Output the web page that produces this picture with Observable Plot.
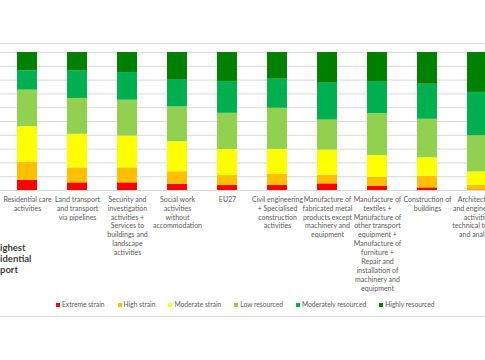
<!DOCTYPE html>
<html><head><meta charset="utf-8">
<script src="https://cdn.jsdelivr.net/npm/d3@7"></script>
<script src="https://cdn.jsdelivr.net/npm/@observablehq/plot@0.6"></script>
<style>
html,body{margin:0;padding:0;background:#fff;overflow:hidden;}
#wrap{position:relative;width:485px;height:360px;overflow:hidden;font-family:Lato,"Liberation Sans",sans-serif;}
#box{position:absolute;left:0;width:485px;top:43px;height:274px;border-top:1px solid #d9d9d9;border-bottom:1px solid #d9d9d9;box-sizing:border-box;}
#chart{position:absolute;left:0;top:0;width:504px;}
#chart svg{max-width:none;}
#side{position:absolute;left:0;top:242px;font-weight:bold;font-size:9.5px;line-height:11px;color:#404040;}
#legend{position:absolute;left:56px;top:300px;display:flex;gap:13px;font-size:6.7px;line-height:9px;color:#595959;white-space:nowrap;}
.item{display:flex;align-items:center;gap:2px}
.sw{width:4px;height:4px;display:inline-block}
</style></head>
<body>
<div id="wrap">
  <div id="box"></div>
  <div id="chart"></div>
  <div id="side">ighest<br>idential<br>port</div>
  <div id="legend"></div>
</div>
<script>
const categories = [
  "Residential care activities",
  "Land transport and transport via pipelines",
  "Security and investigation activities + Services to buildings and landscape activities",
  "Social work activities without accommodation",
  "EU27",
  "Civil engineering + Specialised construction activities",
  "Manufacture of fabricated metal products except machinery and equipment",
  "Manufacture of textiles + Manufacture of other transport equipment + Manufacture of furniture + Repair and installation of machinery and equipment",
  "Construction of buildings",
  "Architectural and engineering activities; technical testing and analysis"
];
const tickLabels = [
  "Residential care\nactivities",
  "Land transport\nand transport\nvia pipelines",
  "Security and\ninvestigation\nactivities +\nServices to\nbuildings and\nlandscape\nactivities",
  "Social work\nactivities\nwithout\naccommodation",
  "EU27",
  "Civil engineering\n+ Specialised\nconstruction\nactivities",
  "Manufacture of\nfabricated metal\nproducts except\nmachinery and\nequipment",
  "Manufacture of\ntextiles +\nManufacture of\nother transport\nequipment +\nManufacture of\nfurniture +\nRepair and\ninstallation of\nmachinery and\nequipment",
  "Construction of\nbuildings",
  "Architectural\nand engineering\nactivities\ntechnical testing\nand analysis"
];
const seriesNames = ["Extreme strain","High strain","Moderate strain","Low resourced","Moderately resourced","Highly resourced"];
const seriesColors = ["#ff0000","#ffc000","#ffff00","#92d050","#00b050","#008000"];

const extremeStrain       = [7.3, 5.5, 5.5, 4.4, 3.6, 3.6, 4.8, 2.9, 1.9, 0.4];
const highStrain          = [13.3, 10.9, 10.9, 9.1, 7.2, 8.0, 6.3, 6.7, 8.5, 3.4];
const moderateStrain      = [25.7, 24.3, 23.0, 21.7, 18.8, 18.1, 18.1, 15.7, 13.3, 9.7];
const lowResourced        = [26.5, 26.0, 25.9, 25.1, 26.1, 29.7, 21.7, 30.2, 27.9, 26.3];
const moderatelyResourced = [14.0, 19.8, 20.0, 19.3, 22.9, 21.0, 26.6, 23.2, 25.4, 31.4];
const highlyResourced     = [13.3, 13.5, 14.5, 20.0, 21.0, 19.3, 22.2, 21.0, 23.0, 29.0];

const seriesValues = [extremeStrain, highStrain, moderateStrain, lowResourced, moderatelyResourced, highlyResourced];
const data = [];
seriesNames.forEach((s, si) => {
  categories.forEach((c, ci) => data.push({category: c, series: s, value: seriesValues[si][ci]}));
});

const chart = Plot.plot({
  width: 504, height: 300,
  marginTop: 52, marginBottom: 110, marginLeft: 0, marginRight: 0,
  style: {fontFamily: 'Lato,"Liberation Sans",sans-serif', fontSize: "7px", background: "transparent"},
  x: {domain: categories, paddingInner: 0.6, paddingOuter: 0.33, axis: null},
  y: {domain: [0, 1], axis: null},
  color: {domain: seriesNames, range: seriesColors},
  marks: [
    Plot.gridY({ticks: 10, stroke: "#d9d9d9", strokeOpacity: 1}),
    Plot.barY(data, Plot.stackY({offset: "normalize"}, {x: "category", y: "value", fill: "series", z: "series"})),
    Plot.text(categories, {x: d => d, frameAnchor: "bottom", lineAnchor: "top", dy: 5,
      text: (d, i) => tickLabels[i], fill: "#595959", fontSize: 7, lineHeight: 1.27})
  ]
});
document.getElementById("chart").appendChild(chart);

const legend = document.getElementById("legend");
seriesNames.forEach((s, i) => {
  const it = document.createElement("div");
  it.className = "item";
  it.innerHTML = `<span class="sw" style="background:${seriesColors[i]}"></span><span>${s}</span>`;
  legend.appendChild(it);
});
</script>
</body></html>
